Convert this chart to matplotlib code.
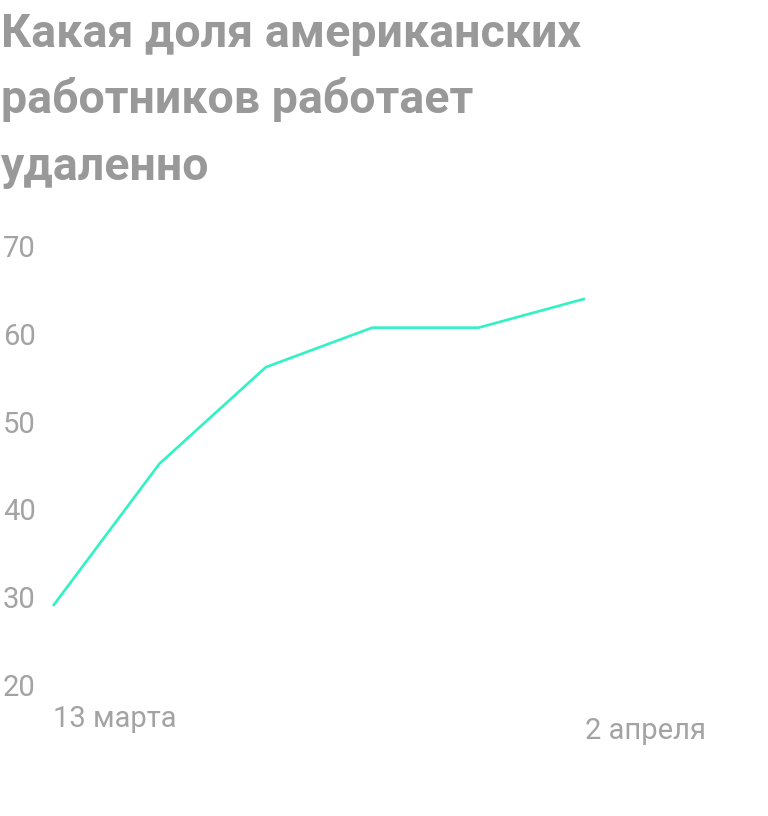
import matplotlib
matplotlib.use('Agg')
import matplotlib.pyplot as plt

plt.rcParams['font.family'] = ['Roboto', 'DejaVu Sans']

title_lines = ['Какая доля американских', 'работников работает', 'удаленно']
points = [0, 1, 2, 3, 4, 5]
share = [29.0, 45.2, 56.2, 60.7, 60.7, 64.0]
y_ticks = [20, 30, 40, 50, 60, 70]
first_label = '13 марта'
last_label = '2 апреля'

W, H = 768, 816
fig = plt.figure(figsize=(W / 100, H / 100), dpi=100)

# axes placed in pixels: y 20 at 685px, 70 at 246px
left_px, right_px = 3, 700
top_px, bottom_px = 246, 685
ax = fig.add_axes([left_px / W, 1 - bottom_px / H,
                   (right_px - left_px) / W, (bottom_px - top_px) / H])

ax.plot(points, share, color='#31f2c3', lw=1.9, solid_capstyle='butt', clip_on=False)

# x: point 0 at 53px, step ~106.4px
step = 106.4
ax.set_xlim(-(53 - left_px) / step, (right_px - 53) / step)
ax.set_ylim(20, 70)

ax.set_yticks(y_ticks)
ax.set_yticklabels([str(t) for t in y_ticks])
ax.tick_params(axis='y', length=0, pad=0, labelsize=21, labelcolor='#a3a3a3')
for lab in ax.get_yticklabels():
    lab.set_horizontalalignment('left')
ax.set_xticks([])
for s in ax.spines.values():
    s.set_visible(False)

tr = ax.get_xaxis_transform()
ax.text(points[0], (685 - 727) / 439, first_label, transform=tr, ha='left',
        va='baseline', fontsize=21, color='#a3a3a3')
ax.text(points[-1], (685 - 739) / 439, last_label, transform=tr, ha='left',
        va='baseline', fontsize=21, color='#a3a3a3')

baselines = [47, 113, 180]
for line, b in zip(title_lines, baselines):
    fig.text(1 / W, 1 - b / H, line, ha='left', va='baseline', fontsize=33.5,
             fontweight='bold', color='#999999')

fig.savefig('out.png', dpi=100)
